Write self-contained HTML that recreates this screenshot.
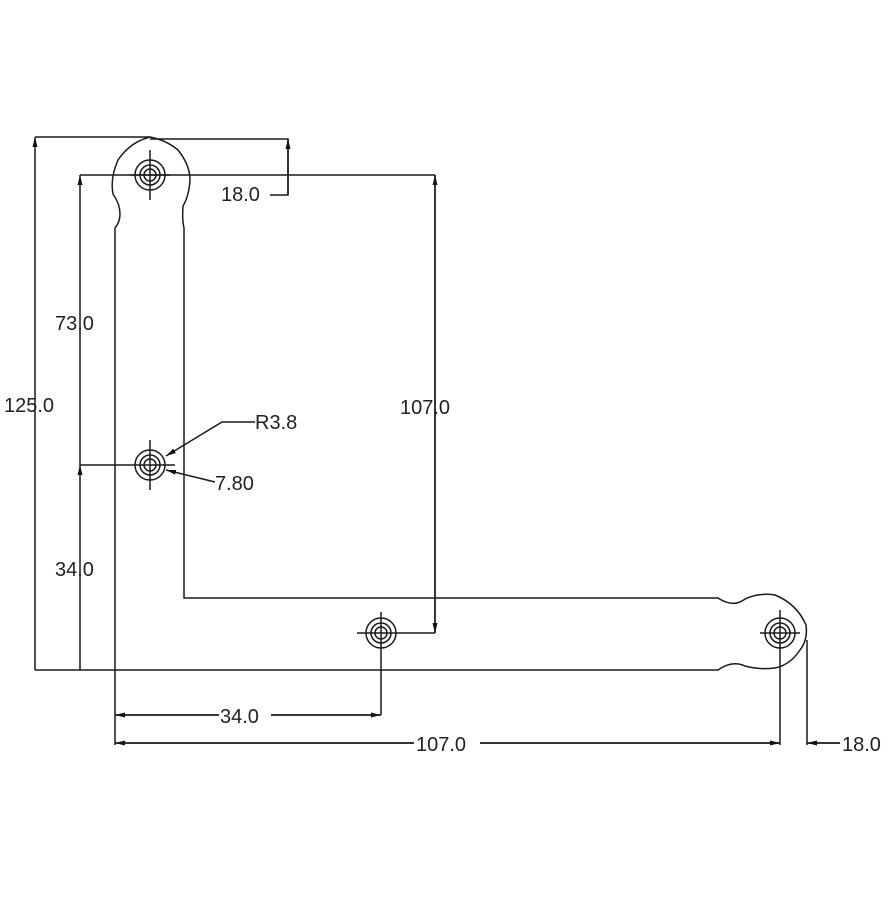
<!DOCTYPE html><html><head><style>body{margin:0;background:#fff}text{font-family:"Liberation Sans",sans-serif;font-size:20px;fill:#222}</style></head><body>
<svg width="894" height="894" viewBox="0 0 894 894" fill="none" stroke="#1a1a1a" stroke-width="1.5">
<defs><marker id="a" markerWidth="10" markerHeight="6" refX="10" refY="3" orient="auto-start-reverse" markerUnits="userSpaceOnUse"><path d="M0,0.5 L10,3 L0,5.5z" fill="#111" stroke="none"/></marker></defs>
<path d="M115,670 L115,228 Q120,222 120,214 Q120,204 113,194 Q110,178 118,160 Q130,142 150,137 Q166,140 178,150 Q190,165 190,180 Q189,196 183,206 Q182,220 184,228 L184,598 L718,598 Q730,606 740,602 Q755,592 775,595 Q797,604 806,625 Q808,640 800,650 Q790,665 775,668 Q760,670 745,666 Q732,660 718,670 Z"/>
<circle cx="150" cy="175" r="15"/><circle cx="150" cy="175" r="10"/><circle cx="150" cy="175" r="6"/><path d="M150,150V200M130,175H170"/>
<circle cx="150" cy="465" r="15"/><circle cx="150" cy="465" r="10"/><circle cx="150" cy="465" r="6"/><path d="M150,440V490"/>
<circle cx="381" cy="633" r="15"/><circle cx="381" cy="633" r="10"/><circle cx="381" cy="633" r="6"/><path d="M381,612V715M357,633H435"/>
<circle cx="780" cy="633" r="15"/><circle cx="780" cy="633" r="10"/><circle cx="780" cy="633" r="6"/><path d="M780,610V745M760,633H800"/>
<path d="M35,137H150M150,139H288V195H270M80,175H435M80,465H175M35,670H115M115,670V745M807,640V745M807,743H840"/>
<path d="M35,670V137" marker-end="url(#a)"/>
<path d="M80,465V175" marker-end="url(#a)"/>
<path d="M80,670V465" marker-end="url(#a)"/>
<path d="M288,195V139" marker-end="url(#a)"/>
<path d="M435,633V175" marker-end="url(#a)"/>
<path d="M435,175V633" marker-end="url(#a)"/>
<path d="M115,715H381" marker-end="url(#a)"/><path d="M381,715H115" marker-end="url(#a)"/>
<path d="M780,743H115" marker-end="url(#a)"/><path d="M115,743H780" marker-end="url(#a)"/>
<path d="M840,743H807" marker-end="url(#a)"/>
<path d="M255,422H222L166,456" marker-end="url(#a)"/>
<path d="M215,482L166,470" marker-end="url(#a)"/>
<g stroke="none">
<text x="4" y="412">125.0</text>
<text x="55" y="330">73.0</text>
<text x="55" y="576">34.0</text>
<rect x="220" y="180" width="50" height="24" fill="#fff"/><text x="221" y="201">18.0</text>
<text x="400" y="414">107.0</text>
<text x="255" y="429">R3.8</text>
<text x="215" y="490">7.80</text>
<rect x="219" y="704" width="52" height="22" fill="#fff"/><text x="220" y="723">34.0</text>
<rect x="414" y="732" width="66" height="22" fill="#fff"/><text x="416" y="751">107.0</text>
<text x="842" y="751">18.0</text>
</g>
</svg></body></html>
